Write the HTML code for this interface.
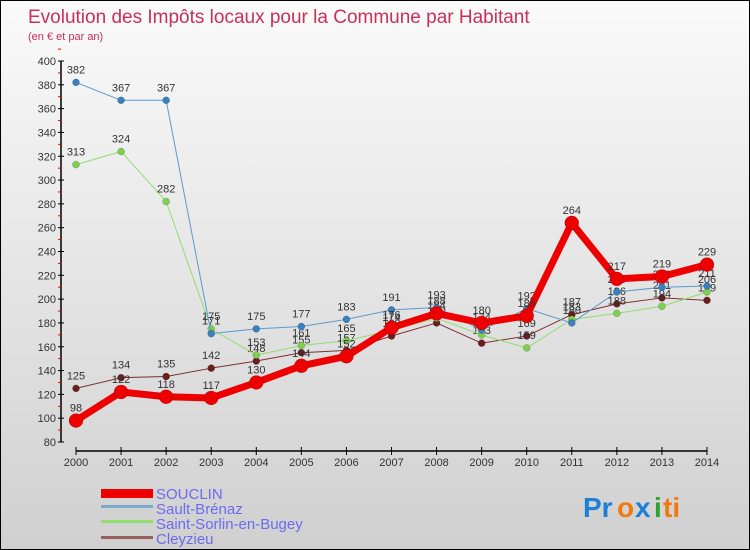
<!DOCTYPE html>
<html><head><meta charset="utf-8"><style>
body{margin:0;}
#c{width:750px;height:550px;position:relative;overflow:hidden;background:linear-gradient(#fafafa,#d0d0d0);box-sizing:border-box;border:1px solid #000;font-family:"Liberation Sans",sans-serif;}
svg text{font-family:"Liberation Sans",sans-serif;}
</style></head><body>
<div id="c">
<svg id="s" width="750" height="550">
<text x="27" y="22" font-size="19" fill="#c8305a">Evolution des Impôts locaux pour la Commune par Habitant</text>
<text x="27" y="39" font-size="11" fill="#c8305a">(en € et par an)</text>
<g id="axes"></g><g id="series"></g>
<g>
<rect x="100" y="488" width="52" height="9" fill="#e00"/>
<text x="155" y="498" font-size="15" fill="#6b6bf0">SOUCLIN</text>
<rect x="100" y="504" width="52" height="3" fill="#7aaad0"/>
<text x="155" y="513" font-size="15" fill="#6b6bf0">Sault-Brénaz</text>
<rect x="100" y="519" width="52" height="3" fill="#90dd70"/>
<text x="155" y="528" font-size="15" fill="#6b6bf0">Saint-Sorlin-en-Bugey</text>
<rect x="100" y="535" width="52" height="3" fill="#9a6060"/>
<text x="155" y="543" font-size="15" fill="#6b6bf0">Cleyzieu</text>
</g>
<g font-size="28" font-weight="bold">
<text x="582" y="516" fill="#1e7fd8">Pr</text><text x="616" y="516" fill="#f07a10">o</text><text x="634" y="516" fill="#1e7fd8">x</text><text x="653" y="516" fill="#30a030">i</text><text x="662" y="516" fill="#f07a10">ti</text>
</g>
</svg>
</div>
<script>
const years=[2000,2001,2002,2003,2004,2005,2006,2007,2008,2009,2010,2011,2012,2013,2014];
const yTicks=[80,100,120,140,160,180,200,220,240,260,280,300,320,340,360,380,400];
const souclin=[98,122,118,117,130,144,152,176,188,180,186,264,217,219,229];
const sault=[382,367,367,171,175,177,183,191,193,174,192,180,206,210,211];
const sorlin=[313,324,282,175,153,161,165,174,184,170,159,183,188,194,206];
const cleyzieu=[125,134,135,142,148,155,157,169,180,163,169,187,196,201,199];
const NS='http://www.w3.org/2000/svg';
const X=i=>75+i*(706-75)/(years.length-1);
const Y=v=>441-(v-80)*(441-60)/320;
function mk(t,a,p){const e=document.createElementNS(NS,t);for(const k in a)e.setAttribute(k,a[k]);p.appendChild(e);return e;}
const ax=document.getElementById('axes');
let e=mk('line',{x1:60,y1:60,x2:60,y2:441,stroke:'#000','stroke-width':1.5},ax);


e=mk('line',{x1:75,y1:450,x2:706,y2:450,stroke:'#000','stroke-width':1.5},ax);


yTicks.forEach(v=>{
 mk('line',{x1:57,y1:Y(v),x2:63,y2:Y(v),stroke:'#000'},ax);
 mk('line',{x1:57,y1:Y(v+10),x2:60,y2:Y(v+10),stroke:'#e00'},ax);
 const t=mk('text',{x:55,y:Y(v)+4,'font-size':11,'text-anchor':'end',fill:'#333'},ax);t.textContent=v;
 
 
});
years.forEach((y,i)=>{
 mk('line',{x1:X(i),y1:446,x2:X(i),y2:454,stroke:'#000'},ax);
 const t=mk('text',{x:X(i),y:465,'font-size':11,'text-anchor':'middle',fill:'#333'},ax);t.textContent=y;
 
 
});
const sg=document.getElementById('series');
function draw(data,color,w,r,name,dot){
 const g=mk('g',{},sg);
 
 
 const l=mk('polyline',{points:data.map((v,i)=>X(i)+','+Y(v)).join(' '),fill:'none',stroke:color,'stroke-width':w,'stroke-linejoin':'round'},g);
 
 
 data.forEach((v,i)=>{
  const c=mk('circle',{cx:X(i),cy:Y(v),r:r,fill:dot,stroke:'rgba(0,0,0,0.3)','stroke-width':0.5},g);
  
  
  const t=mk('text',{x:X(i),y:Y(v)-9,'font-size':11,'text-anchor':'middle',fill:'#333'},g);t.textContent=v;
  
  
 });
}
draw(cleyzieu,'#7a3030',1,3.5,'cleyzieu','#6a1e1e');
draw(sorlin,'#90dd70',1,3.5,'saint-sorlin','#80d050');
draw(sault,'#5a9ad0',1,3.5,'sault-brenaz','#3a80c0');
draw(souclin,'#ee0000',7,7,'souclin','#ee0000');
</script>
</body></html>
